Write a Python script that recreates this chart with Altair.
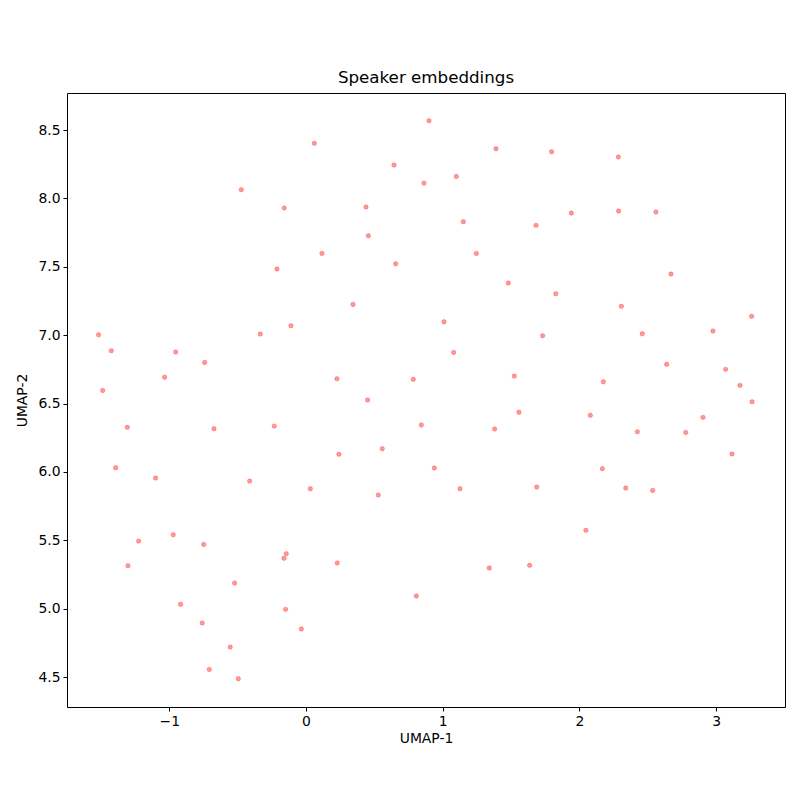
import altair as alt
import pandas as pd

umap1 = [-0.473, -0.159, -0.212, -0.110, -0.334, -1.517, -1.424, -0.953, -0.741, -1.034, -1.487,
         0.900, 0.061, 1.390, 0.644, 1.100, 0.863, 0.439, 1.151, 1.683, 0.456, 0.117, 1.246, 0.656,
         1.480, 0.344, 1.010, 1.080, 1.524, 0.227, 0.785, 0.451,
         1.797, 2.285, 1.941, 2.287, 2.560, 2.670, 1.827, 2.307, 3.260, 1.731, 2.460, 2.977, 2.639,
         3.070, 2.175, 3.175, 3.263,
         2.080, 2.904, 2.424, 2.778, 3.116, 2.168, 2.339, 2.536, 2.048,
         1.558, 0.844, 1.380, 0.558, 0.241, 0.939, 0.032, 0.529, 1.127, 1.688, 0.229, 1.341, 1.636,
         0.807, -0.034,
         -1.307, -0.673, -0.232, -1.392, -1.100, -0.412, -0.971, -1.224, -0.748, -0.144, -0.161,
         -1.302, -0.522, -0.917, -0.149, -0.759, -0.554, -0.707, -0.495]
umap2 = [8.064, 7.930, 7.484, 7.069, 7.008, 7.003, 6.886, 6.877, 6.801, 6.692, 6.596,
         8.568, 8.403, 8.363, 8.244, 8.161, 8.112, 7.937, 7.830, 7.803, 7.727, 7.598, 7.598, 7.522,
         7.381, 7.225, 7.098, 6.874, 6.701, 6.681, 6.677, 6.526,
         8.341, 8.303, 7.893, 7.908, 7.900, 7.447, 7.303, 7.211, 7.138, 6.996, 7.010, 7.030, 6.787,
         6.750, 6.659, 6.633, 6.513,
         6.414, 6.399, 6.294, 6.289, 6.131, 6.024, 5.882, 5.865, 5.573,
         6.436, 6.343, 6.314, 6.170, 6.129, 6.028, 5.877, 5.831, 5.877, 5.889, 5.334, 5.297, 5.317,
         5.092, 4.851,
         6.326, 6.316, 6.335, 6.031, 5.955, 5.933, 5.541, 5.494, 5.470, 5.402, 5.368,
         5.314, 5.187, 5.032, 4.995, 4.895, 4.719, 4.556, 4.488]

x_ticks = [-1, 0, 1, 2, 3]
y_ticks = [4.5, 5.0, 5.5, 6.0, 6.5, 7.0, 7.5, 8.0, 8.5]

df = pd.DataFrame({"UMAP-1": umap1, "UMAP-2": umap2})

FONT = "DejaVu Sans"

chart = alt.Chart(df).mark_circle(
    size=20, color="#ff0000", fillOpacity=0.4, stroke="#ff0000", strokeOpacity=0.3, strokeWidth=0.8
).encode(
    x=alt.X("UMAP-1:Q", scale=alt.Scale(domain=[-1.748, 3.504], nice=False, zero=False),
            axis=alt.Axis(values=x_ticks, format="d", title="UMAP-1")),
    y=alt.Y("UMAP-2:Q", scale=alt.Scale(domain=[4.281, 8.771], nice=False, zero=False),
            axis=alt.Axis(values=y_ticks, format=".1f", title="UMAP-2")),
).properties(
    width=718, height=614,
    title=alt.Title("Speaker embeddings", fontSize=16.7, fontWeight="normal", font=FONT,
                    color="black", offset=6),
    autosize=alt.AutoSizeParams(type="none"),
    padding={"left": 59, "top": 85, "right": 7, "bottom": 77},
).configure_view(
    stroke="black", strokeWidth=1
).configure_axis(
    grid=False, domain=False, tickColor="black", tickSize=4, tickWidth=1,
    labelFont=FONT, labelFontSize=13.9, labelColor="black", labelPadding=3,
    titleFont=FONT, titleFontSize=13.9, titleFontWeight="normal", titleColor="black",
).configure_axisX(titlePadding=4).configure_axisY(titlePadding=8)

chart.save("out.html", embed_options={"renderer": "svg", "actions": False})
